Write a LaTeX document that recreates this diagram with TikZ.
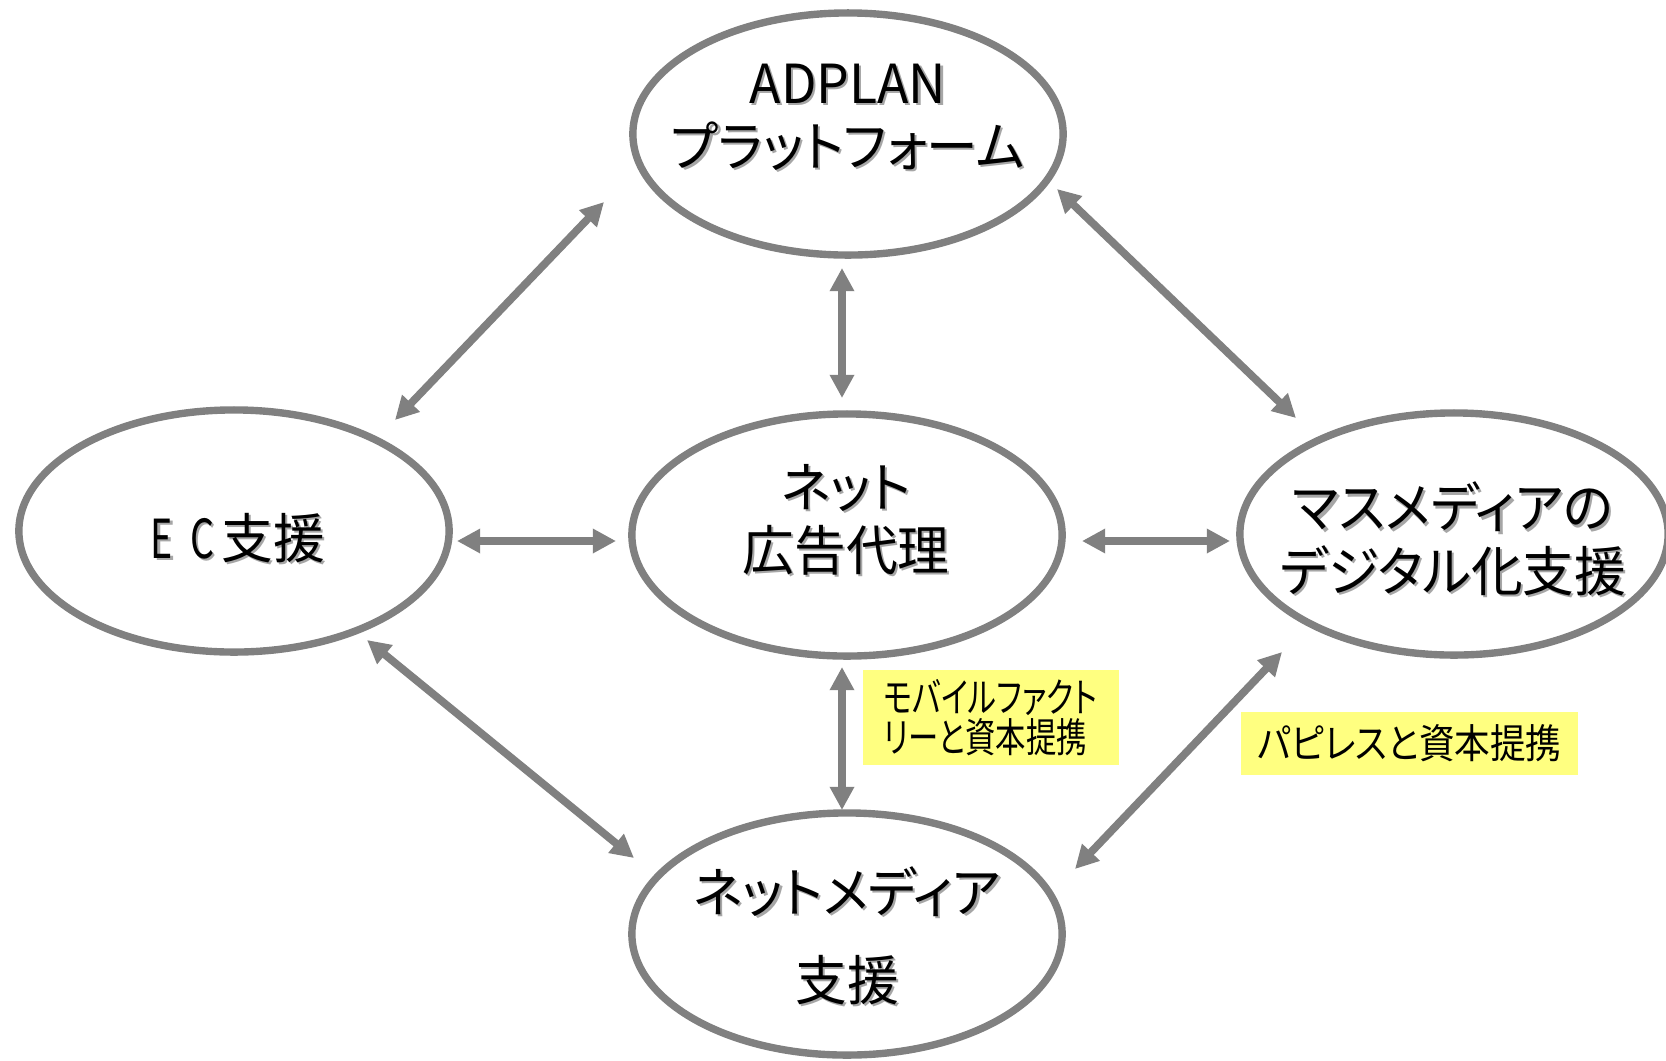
\documentclass[tikz,border=0pt]{standalone}
\usepackage{fontspec}
\usetikzlibrary{arrows.meta,shapes.geometric,calc}
\newfontfamily\jpf{Noto Sans CJK JP}[RawFeature=+palt,FakeStretch=0.96]
\newfontfamily\jpe{Noto Sans CJK JP}[RawFeature=+palt,FakeStretch=0.7]
\newfontfamily\jpc{Noto Sans CJK JP}[RawFeature=+palt,FakeStretch=0.75]
\newfontfamily\jpd{Noto Sans CJK JP}[RawFeature=+palt,FakeStretch=0.88]
\definecolor{linegray}{HTML}{808080}
\definecolor{shadowc}{HTML}{A6A6A6}
\definecolor{labelyellow}{HTML}{FFFF80}
\newcommand{\shd}[1]{\mbox{\rlap{\kern0.6pt\raisebox{-0.6pt}{\color{shadowc}#1}}#1}}
\begin{document}
\begin{tikzpicture}[x=0.01cm,y=-0.01cm,
  ell/.style={ellipse,draw=linegray,line width=2.1pt,minimum width=4.30cm,minimum height=2.42cm,inner sep=0pt},
  maintext/.style={align=center,font=\jpf\fontsize{15.3}{18}\selectfont,inner sep=0pt},
  dbl/.style={{Triangle[length=6.6pt,width=6.6pt]}-{Triangle[length=6.6pt,width=6.6pt]},line width=2.2pt,draw=linegray},
  note/.style={fill=labelyellow,inner ysep=0pt}
]
\useasboundingbox[fill=white] (0,0) rectangle (1666,1060);

% ellipses
\node[ell] (top) at (848,134) {};
\node[ell] (left) at (234,531) {};
\node[ell] (mid) at (847,535) {};
\node[ell,minimum width=4.28cm] (right) at (1454,534) {};
\node[ell] (bot) at (847,934) {};

% texts
\node[maintext] (ttop) at (848,118) {\shd{ADPLAN}\\\shd{プラットフォーム}};
\node[maintext] (tleft) at (238,539) {\shd{{\jpe E}\hspace{5pt}{\jpe C}\hspace{2pt}支援}};
\node[maintext] (tmid) at (846,521) {\shd{ネット}\\\shd{広告代理}};
\node[maintext] (tright) at (1453,540) {\shd{マスメディアの}\\\shd{デジタル化支援}};
\node[maintext] (tbot) at (847,937) {\shd{ネットメディア}\\[7pt]\shd{支援}};

% arrow end points
\coordinate (tl1) at ($(top)+(-244,68)$);
\coordinate (tl2) at ($(left)+(161,-111)$);
\coordinate (tc1) at ($(top)+(-6,134)$);
\coordinate (tc2) at ($(mid)+(-5,-137)$);
\coordinate (tr1) at ($(top)+(209,55)$);
\coordinate (tr2) at ($(right)+(-158,-116)$);
\coordinate (lc1) at ($(left)+(223,10)$);
\coordinate (lc2) at ($(mid)+(-231,6)$);
\coordinate (cr1) at ($(mid)+(235,6)$);
\coordinate (cr2) at ($(right)+(-224,7)$);
\coordinate (cb1) at ($(mid)+(-5,132)$);
\coordinate (cb2) at ($(bot)+(-5,-124)$);
\coordinate (lb1) at ($(left)+(133,109)$);
\coordinate (lb2) at ($(bot)+(-213,-76)$);
\coordinate (rb1) at ($(right)+(-172,118)$);
\coordinate (rb2) at ($(bot)+(228,-65)$);

\draw[dbl] (tl1) -- (tl2);
\draw[dbl] (tc1) -- (tc2);
\draw[dbl] (tr1) -- (tr2);
\draw[dbl] (lc1) -- (lc2);
\draw[dbl] (cr1) -- (cr2);
\draw[dbl] (cb1) -- (cb2);
\draw[dbl] (lb1) -- (lb2);
\draw[dbl] (rb1) -- (rb2);

% labels
\node[note,font=\jpc\fontsize{11.5}{11.5}\selectfont,text width=2.14cm,inner xsep=0.21cm,minimum height=0.95cm,align=left] (n1) at (991,717.5) {モバイルファクト\\リーと資本提携};
\node[note,font=\jpd\fontsize{11.5}{12}\selectfont,minimum width=3.37cm,minimum height=0.63cm,align=center] (n2) at (1409.5,743.5) {パピレスと資本提携};
\end{tikzpicture}
\end{document}
